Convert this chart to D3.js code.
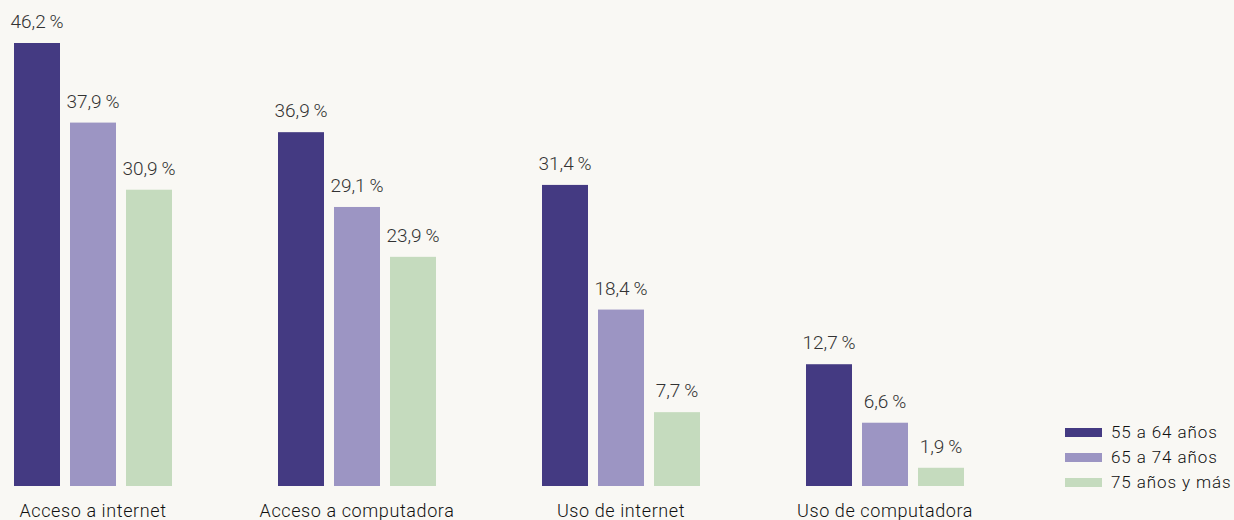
<!DOCTYPE html>
<html>
<head>
<meta charset="utf-8">
<script src="https://cdn.jsdelivr.net/npm/d3@7"></script>
<style>
  html, body { margin: 0; padding: 0; background: #f9f8f4; }
  svg { display: block; }
  text { font-family: Roboto, "Noto Sans", sans-serif; }
</style>
</head>
<body>
<svg id="chart" width="1234" height="520"></svg>
<script>
// Categories and series
const categories = ["Acceso a internet", "Acceso a computadora", "Uso de internet", "Uso de computadora"];
const seriesNames = ["55 a 64 años", "65 a 74 años", "75 años y más"];
const serie55a64 = [46.2, 36.9, 31.4, 12.7];
const serie65a74 = [37.9, 29.1, 18.4, 6.6];
const serie75mas = [30.9, 23.9, 7.7, 1.9];
const colors = ["#443a82", "#9c95c3", "#c5dbbe"];

const seriesValues = [serie55a64, serie65a74, serie75mas];

const svg = d3.select("#chart");
const W = 1234, H = 520;
svg.append("rect").attr("width", W).attr("height", H).attr("fill", "#f9f8f4");

const baseline = 486;
const y = d3.scaleLinear().domain([0, 46.2]).range([baseline, 43]);

const x0 = d3.scaleBand().domain(categories).range([14, 964]).paddingInner(0.4015).paddingOuter(0);
const x1 = d3.scaleBand().domain(seriesNames).range([0, x0.bandwidth()]).paddingInner(0.1786).paddingOuter(0);

const fmt = v => d3.format(".1f")(v).replace(".", ",") + "\u2009%";

const groups = svg.selectAll("g.grp")
  .data(categories)
  .join("g")
  .attr("class", "grp")
  .attr("transform", d => `translate(${Math.round(x0(d))},0)`);

groups.each(function(cat, ci) {
  const g = d3.select(this);
  const rows = seriesNames.map((s, si) => ({ s, si, v: seriesValues[si][ci] }));
  g.selectAll("rect")
    .data(rows)
    .join("rect")
    .attr("x", d => Math.round(x1(d.s)))
    .attr("y", d => y(d.v))
    .attr("width", Math.round(x1.bandwidth()))
    .attr("height", d => baseline - y(d.v))
    .attr("fill", d => colors[d.si]);
  g.selectAll("text.val")
    .data(rows)
    .join("text")
    .attr("class", "val")
    .attr("x", d => Math.round(x1(d.s)) + x1.bandwidth() / 2)
    .attr("y", d => y(d.v) - 15)
    .attr("text-anchor", "middle")
    .attr("font-size", 19)
    .attr("font-weight", 300)
    .attr("fill", "#333")
    .text(d => fmt(d.v));
  g.append("text")
    .attr("x", x0.bandwidth() / 2)
    .attr("y", 517)
    .attr("text-anchor", "middle")
    .attr("font-size", 18)
    .attr("font-weight", 300)
    .attr("letter-spacing", 0.6)
    .attr("fill", "#111")
    .text(cat);
});

// Legend
const legend = svg.append("g").attr("transform", "translate(1065,428)");
const li = legend.selectAll("g")
  .data(seriesNames)
  .join("g")
  .attr("transform", (d, i) => `translate(0,${i * 25})`);
li.append("rect").attr("width", 37).attr("height", 9).attr("fill", (d, i) => colors[i]);
li.append("text")
  .attr("x", 46)
  .attr("y", 10)
  .attr("font-size", 17)
  .attr("font-weight", 300)
  .attr("letter-spacing", 0.9)
  .attr("fill", "#111")
  .text(d => d);
</script>
</body>
</html>
